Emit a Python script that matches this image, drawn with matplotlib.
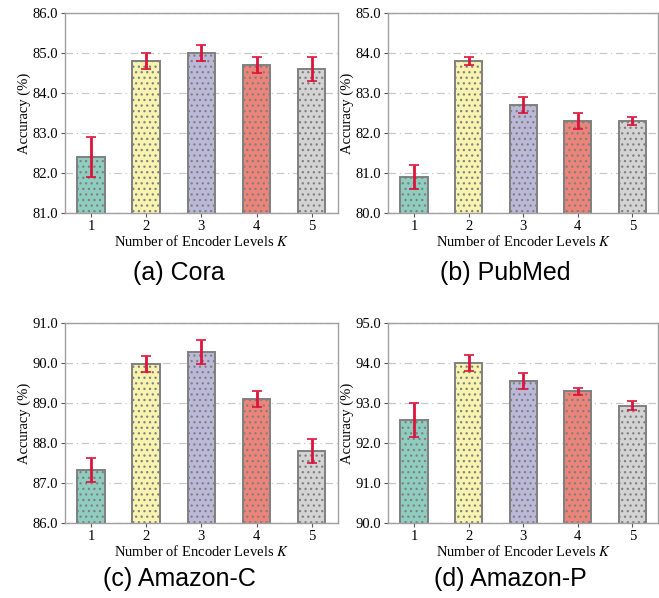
"""Ablation on the number of encoder levels K, four datasets."""

import matplotlib
matplotlib.use("Agg")
import matplotlib.pyplot as plt
import numpy as np

plt.rcParams["font.family"] = ["Liberation Serif", "DejaVu Serif"]
plt.rcParams["mathtext.fontset"] = "stix"
plt.rcParams["hatch.color"] = "#808080"
plt.rcParams["hatch.linewidth"] = 0.9

levels = [1, 2, 3, 4, 5]
bar_colors = ["#8ecdbf", "#f8f4b0", "#bcb9d8", "#ec8479", "#d3d3d3"]

cora_acc = [82.4, 84.8, 85.0, 84.7, 84.6]
cora_err = [0.5, 0.2, 0.2, 0.2, 0.3]
pubmed_acc = [80.9, 83.8, 82.7, 82.3, 82.3]
pubmed_err = [0.3, 0.1, 0.2, 0.2, 0.1]
amazon_c_acc = [87.32, 89.98, 90.27, 89.11, 87.8]
amazon_c_err = [0.3, 0.2, 0.3, 0.2, 0.3]
amazon_p_acc = [92.58, 94.0, 93.55, 93.3, 92.94]
amazon_p_err = [0.42, 0.2, 0.2, 0.09, 0.12]

panels = [
    ("(a) Cora", cora_acc, cora_err, (81, 86)),
    ("(b) PubMed", pubmed_acc, pubmed_err, (80, 85)),
    ("(c) Amazon-C", amazon_c_acc, amazon_c_err, (86, 91)),
    ("(d) Amazon-P", amazon_p_acc, amazon_p_err, (90, 95)),
]

# axes boxes in figure fractions, taken from the reference layout
boxes = [
    [0.0986, 0.644, 0.414, 0.334],
    [0.589, 0.644, 0.41, 0.334],
    [0.0986, 0.1254, 0.414, 0.334],
    [0.589, 0.1254, 0.41, 0.334],
]
title_pos = [(0.272, 0.543), (0.767, 0.543), (0.272, 0.031), (0.774, 0.031)]

fig = plt.figure(figsize=(6.59, 5.98), dpi=100)

for (title, acc, err, ylim), box, tpos in zip(panels, boxes, title_pos):
    ax = fig.add_axes(box)
    ax.bar(levels, acc, width=0.5, color=bar_colors, edgecolor="#808080",
           linewidth=1.4, hatch="...", zorder=2)
    ax.errorbar(levels, acc, yerr=err, fmt="none", ecolor="#dc143c",
                elinewidth=2, capsize=3.5, capthick=1.2, zorder=3)
    ax.set_ylim(*ylim)
    ax.set_xticks(levels)
    ax.set_yticks(np.arange(ylim[0], ylim[1] + 0.5, 1.0))
    ax.yaxis.set_major_formatter(matplotlib.ticker.FormatStrFormatter("%.1f"))
    ax.grid(axis="y", linestyle=(0, (6, 3, 1, 3)), color="#c8c8c8",
            linewidth=0.9, zorder=0)
    for s in ax.spines.values():
        s.set_color("#a0a0a0")
        s.set_linewidth(1.0)
    ax.tick_params(colors="#555555", labelcolor="black", labelsize=10.5,
                   length=3, width=0.8, pad=2)
    ax.set_xlabel("Number of Encoder Levels $K$", fontsize=10.5, labelpad=1)
    ax.set_ylabel("Accuracy (%)", fontsize=10.5, labelpad=1)
    fig.text(tpos[0], tpos[1], title, ha="center", va="center",
             fontsize=18, family=["Liberation Sans", "DejaVu Sans"])

fig.savefig("out.png", dpi=100)
